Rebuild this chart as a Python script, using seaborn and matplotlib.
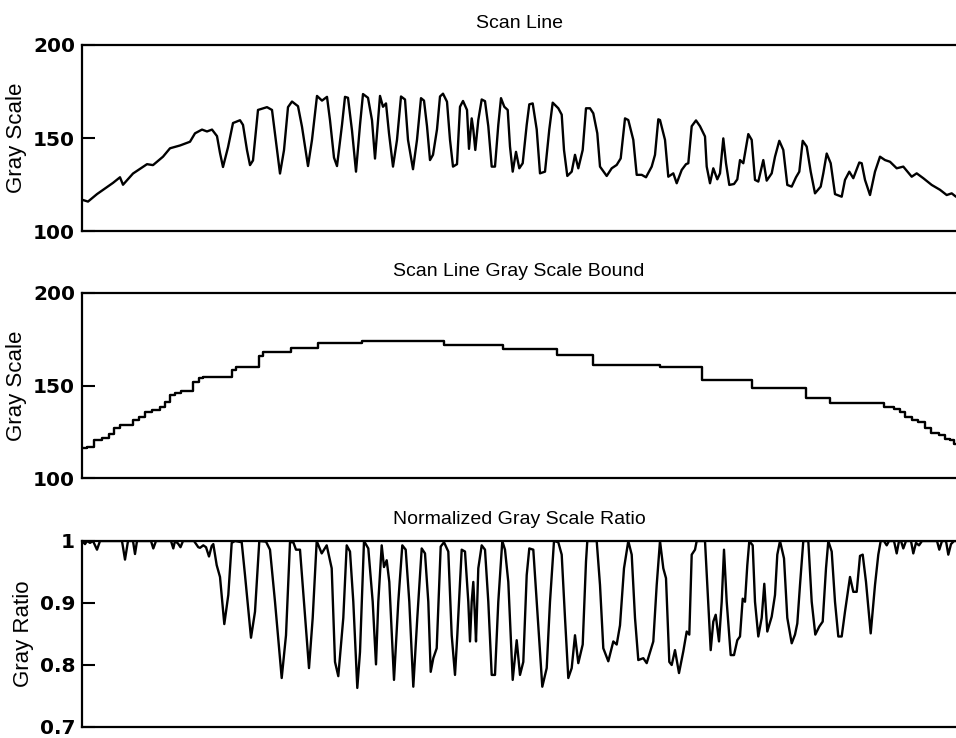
import numpy as np
import pandas as pd
import matplotlib
matplotlib.use("Agg")
import matplotlib.pyplot as plt
import seaborn as sns

# ---------------- data ----------------
titles = ["Scan Line", "Scan Line Gray Scale Bound", "Normalized Gray Scale Ratio"]
ylabels = ["Gray Scale", "Gray Scale", "Gray Ratio"]
gray_ticks = [100, 150, 200]
gray_ticklabels = ["100", "150", "200"]
ratio_ticks = [0.7, 0.8, 0.9, 1.0]
ratio_ticklabels = ["0.7", "0.8", "0.9", "1"]

scan_x = [0, 6, 15, 31, 38, 41, 51, 65, 71, 81, 88, 98, 108, 113, 120, 125, 130, 135, 138, 141,
          146, 151, 158, 161, 165, 168, 171, 176, 185, 190, 195, 198, 202, 206, 210, 216, 220, 226,
          230, 235, 240, 245, 248, 252, 255, 260, 263, 266, 270, 274, 278, 281, 286, 290,
          293, 298, 301, 304, 307, 311, 315, 319, 323, 326, 331, 335, 339, 342, 345, 348, 351, 355,
          358, 361, 365, 368, 371, 375, 378, 381, 385, 387, 389.7, 391.3, 393.3, 396.3, 399.7, 403,
          406.3, 409.7, 413, 416.3, 419, 422.3, 425.7, 428, 430.7, 434, 437.3, 440.7, 444.7, 447.3,
          450.7, 454.7, 458, 463, 467.3, 470.7, 476.3, 479.7, 482, 485.3, 489.7, 493, 496.3, 500.7,
          504, 508, 511.3, 515.3, 518, 524.7, 529.7, 534.7, 538.7, 543, 546.3, 551.3, 554.7, 559.7,
          564, 569.7, 573, 576.3, 578, 583, 586.3, 591.3, 594.7, 599.7, 604, 606.3, 609.7, 614, 618,
          623, 624.7, 628, 631.3, 635.3, 638, 641.3, 644, 647.3, 652, 655.3, 658, 661.3, 666.3,
          669.7, 673, 676.3, 681.3, 684.7, 689.7, 693, 697.3, 701.3, 705.3, 709.7, 714, 717.3,
          720.7, 724.7, 728.7, 733, 738.7, 741.3, 744.7, 748.7, 753, 759.7, 763, 767.3, 771.3,
          777.3, 779.7, 783, 788, 793, 798, 803, 808, 814.7, 821.3, 829.7, 834.7, 841.3, 849.7,
          858, 864.7, 869.7, 874]
scan_val = [117, 116, 120, 126, 129, 125, 131, 136, 135.5, 140, 144.5, 146, 148, 152.5, 154.5, 153.5,
            154.5, 151, 142, 134.5, 145, 158, 159.5, 157, 143.5, 135.5, 138, 165, 166.5, 165, 143.5,
            131, 143.5, 166.5, 169.5, 167, 156, 135, 149, 172.5, 170, 172, 159.5, 139.5, 135, 157,
            172, 171.5, 154, 132, 157, 173.5, 171.5, 159.5,
            139, 172.5, 166.7, 168.5, 152.5, 134.7, 149, 172.2, 170.6, 149, 133.3, 149, 171.3, 170,
            156.3, 138.2, 141, 154.6, 172.2, 173.7, 169.4, 149, 134.7, 136, 166.7, 169.8, 165, 144.2,
            160.5, 154.6, 143.6, 159.6, 170.6, 169.7, 156.3, 134.7, 134.7, 157, 171.3, 166.7, 165,
            145.4, 132, 142.6, 133.8, 136.5, 157, 168, 168.5, 154.6, 131.1, 132, 154.6, 168.9, 165.9,
            162.5, 143.6, 129.7, 132, 141, 133.8, 143.6, 165.9, 165.9, 163.2, 152.5, 134.7, 129.7,
            133.8, 135.6, 139.1, 160.5, 159.6, 149, 130.3, 130.3, 129, 134.7, 141, 160, 159.6, 149,
            129.3, 131.1, 125.8, 132.9, 136, 136.5, 156.3, 159.4, 156.3, 150.8, 134.7, 125.8, 133.8,
            127.9, 131.1, 149.8, 136.5, 124.9, 125.4, 127.9, 138.2, 136.5, 152.1, 149, 127.6, 126.7,
            138.2, 127.2, 131.1, 140, 148.5, 143.6, 124.9, 124, 129, 132, 148.5, 145.4, 132, 120.4,
            124, 131.1, 141.7, 136.5, 120, 118.6, 127.6, 132, 128.5, 136.9, 136.5, 127.6, 119.5, 132,
            140, 138.2, 137.3, 133.8, 134.7, 129.3, 131.1, 128.5, 124.9, 122.3, 119.5, 120.4, 118.6]

bound_x = [0, 5, 12, 20, 27, 32, 38, 51, 57, 63, 70, 78, 83, 88, 93, 99, 111, 117, 121, 150, 154,
           177, 181, 209, 236, 280, 362, 421, 475, 511, 578, 620, 670, 724, 748, 802, 812, 818,
           823, 830, 836, 843, 849, 857, 863, 868, 872, 874]
bound_val = [116, 117, 120.5, 121.5, 124, 127, 128.6, 131.4, 133.2, 135.9, 136.8, 138.6, 141.3,
             144.9, 145.8, 146.8, 152, 154, 154.8, 158.4, 160.2, 166, 168.3, 170.1, 172.8, 174.1,
             171.9, 169.5, 166.5, 161.1, 159.8, 153, 148.8, 143.1, 140.4, 138.6, 137.5, 135.9,
             133.2, 131.4, 130.4, 126.9, 124.5, 123.2, 120.9, 120.5, 118.4, 118.4]

ratio_x = [0, 3, 5, 8, 11, 15, 18, 40, 43, 46, 51, 53, 55, 69, 71.3, 74, 89, 91.3, 93, 96, 98.5,
           101, 112, 116.3, 118, 121.3, 124, 127, 129.7, 131.3, 134.7, 138, 142.3, 146.3, 149.7,
           153, 159.7, 163, 169, 173, 177.3, 184, 188, 193, 199.7, 204, 208, 211.3, 214, 218, 222,
           227, 230.7, 234.7, 239.7, 244.7, 249.7, 253, 256.3, 261.3, 264.7, 268, 271.3, 275.3,
           278, 282, 286.3, 290.7, 294, 296.3, 299.7, 302, 304.7, 307.3, 312, 316.3, 320.3, 323.7,
           327.3, 331.3, 335.3, 339.7, 343, 346.3, 348.7, 351.3, 354.7, 358.7, 362, 366.3, 369.7,
           373, 375.3, 379.7, 383, 386.3, 388, 389.7, 391.3, 393, 394, 396.3, 399.7, 403, 406.3,
           409.7, 413, 416.3, 420.3, 423, 426.3, 430.7, 434.7, 438, 441.3, 444.7, 447.3, 451.3,
           454.7, 460.3, 464.7, 468, 472, 476.3, 479.7, 483, 486.3, 489.7, 493, 496.3, 500.7, 504,
           505.3, 514.7, 518, 521.3, 526.3, 531.3, 534.7, 538, 542, 546.3, 549.7, 553, 556.3,
           561.3, 564.7, 571.3, 574.7, 578, 581.3, 584, 587.3, 589.7, 593, 597, 601.3, 604.7,
           607.3, 609.7, 613, 614.7, 623, 625.3, 628.7, 631.3, 633.7, 637, 639.7, 642, 644.7,
           648.7, 652, 655.3, 658, 660.7, 663, 665.3, 667.3, 670.7, 673, 676.3, 679.7, 682.3,
           685.3, 689.7, 693, 695.3, 698, 702, 705.3, 709.7, 713, 715.3, 718, 721.3, 726.3, 729.7,
           733.3, 737.3, 740.7, 744, 746.3, 749.7, 753, 756.3, 759.7, 763, 768, 771.3, 774.7, 778,
           780.7, 784, 788.7, 793, 796.3, 798.7, 802, 804.7, 807, 812, 814.7, 817, 819, 821.3, 824,
           829, 831.3, 834, 837, 840, 855, 857.3, 860, 864, 866.3, 869, 872, 874]
ratio_val = [1.0, 0.995, 1.0, 0.997, 1.0, 0.986, 1.0, 1.0, 0.970, 1.0, 1.0, 0.979, 1.0, 1.0, 0.988,
             1.0, 1.0, 0.988, 1.0, 0.996, 0.990, 1.0, 1.0, 0.990, 0.989, 0.993, 0.990, 0.975, 0.992,
             0.995, 0.961, 0.942, 0.866, 0.913, 0.997, 1.0, 0.998, 0.945, 0.844, 0.886, 1.0, 0.999,
             0.986, 0.902, 0.779, 0.848, 0.998, 0.998, 0.986, 0.986, 0.902, 0.795, 0.876, 1.0, 0.980,
             0.993, 0.956, 0.805, 0.782, 0.876, 0.993, 0.983, 0.902, 0.763, 0.821, 1.0, 0.988, 0.902,
             0.801, 0.902, 0.993, 0.958, 0.969, 0.934, 0.776, 0.902, 0.993, 0.986, 0.902, 0.765,
             0.876, 0.988, 0.980, 0.902, 0.789, 0.811, 0.827, 0.991, 0.998, 0.983, 0.848, 0.784,
             0.848, 0.986, 0.983, 0.902, 0.838, 0.902, 0.934, 0.876, 0.838, 0.956, 0.993, 0.986,
             0.902, 0.784, 0.784, 0.902, 1.0, 0.986, 0.934, 0.776, 0.840, 0.784, 0.805, 0.945, 0.988,
             0.986, 0.902, 0.765, 0.795, 0.902, 1.0, 0.998, 0.978, 0.876, 0.779, 0.795, 0.848, 0.803,
             0.833, 0.967, 1.0, 1.0, 0.929, 0.827, 0.806, 0.838, 0.833, 0.864, 0.956, 1.0, 0.978,
             0.876, 0.808, 0.811, 0.803, 0.838, 0.929, 1.0, 0.956, 0.940, 0.805, 0.800, 0.824, 0.787,
             0.822, 0.854, 0.849, 0.978, 0.986, 1.0, 1.0, 0.929, 0.824, 0.870, 0.881, 0.838, 0.902,
             0.986, 0.902, 0.816, 0.816, 0.840, 0.846, 0.907, 0.902, 0.961, 1.0, 0.993, 0.902, 0.846,
             0.876, 0.931, 0.854, 0.878, 0.913, 0.978, 1.0, 0.972, 0.876, 0.835, 0.849, 0.867, 0.929,
             1.0, 1.0, 0.902, 0.849, 0.862, 0.870, 0.956, 1.0, 0.983, 0.902, 0.846, 0.846, 0.886,
             0.942, 0.918, 0.918, 0.976, 0.978, 0.934, 0.851, 0.929, 0.978, 1.0, 1.0, 0.993, 1.0,
             1.0, 0.980, 1.0, 1.0, 0.988, 1.0, 1.0, 0.980, 0.997, 0.993, 1.0, 1.0, 0.986, 1.0, 1.0,
             0.978, 0.995, 1.0, 1.0]

# ---------------- figure ----------------
sns.set_style("ticks")
plt.rcParams["font.family"] = ["Liberation Sans", "DejaVu Sans"]
plt.rcParams["text.color"] = "black"
plt.rcParams["axes.labelcolor"] = "black"
plt.rcParams["ytick.color"] = "black"
plt.rcParams["xtick.color"] = "black"

fig = plt.figure(figsize=(9.56, 7.38), dpi=100)
W, H = 956.0, 738.0
x0 = 82 / W
w = 1.0 - x0
boxes = [(44.5, 231.5), (293, 478), (541, 727)]
axes = [fig.add_axes([x0, 1 - b / H, w, (b - t) / H]) for t, b in boxes]

line_kw = dict(color="black", linewidth=1.7, estimator=None, sort=False, legend=False)

sns.lineplot(x=scan_x, y=scan_val, ax=axes[0], **line_kw)
sns.lineplot(x=bound_x, y=bound_val, ax=axes[1], drawstyle="steps-post", **line_kw)
sns.lineplot(x=ratio_x, y=ratio_val, ax=axes[2], **line_kw)

for i, ax in enumerate(axes):
    ax.set_xlim(0, 874)
    ax.set_xticks([])
    if i < 2:
        ax.set_ylim(100, 200)
        ax.set_yticks(gray_ticks)
        ax.set_yticklabels(gray_ticklabels)
    else:
        ax.set_ylim(0.7, 1.0)
        ax.set_yticks(ratio_ticks)
        ax.set_yticklabels(ratio_ticklabels)
    ax.set_title(titles[i], fontsize=14, pad=12, color="black")
    ax.set_ylabel(ylabels[i], fontsize=16, labelpad=4, color="black")
    ax.set_xlabel("")
    ax.spines["right"].set_visible(False)
    for s in ["left", "top", "bottom"]:
        ax.spines[s].set_linewidth(1.6)
        ax.spines[s].set_color("black")
    ax.tick_params(axis="y", direction="in", length=9, width=1.5, pad=5,
                   labelsize=14.5, left=True, right=False, colors="black")
    for lab in ax.get_yticklabels():
        lab.set_fontweight("bold")
        lab.set_family(["DejaVu Sans"])

fig.savefig("out.png", dpi=100)
